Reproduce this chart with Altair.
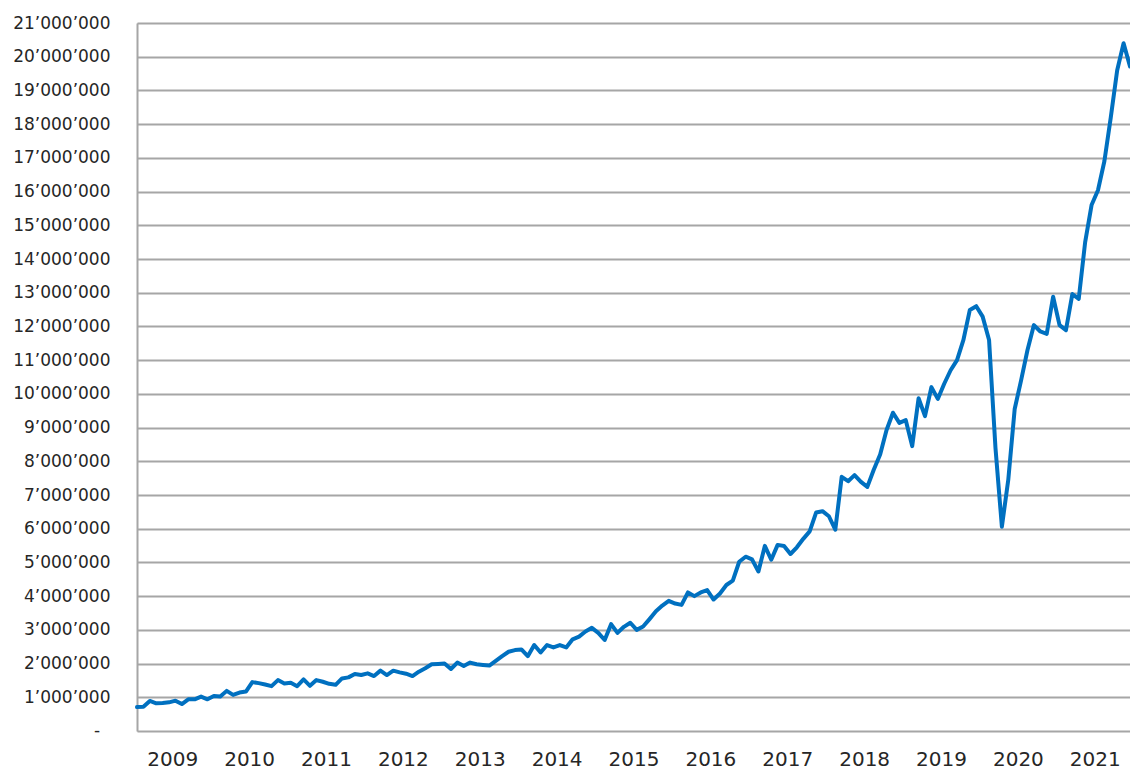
import altair as alt
import pandas as pd

start_year = 2009
values_m = [
    0.71, 0.72, 0.89, 0.82, 0.83, 0.85, 0.90, 0.80, 0.94, 0.94, 1.02, 0.94,
    1.04, 1.02, 1.19, 1.07, 1.14, 1.17, 1.45, 1.42, 1.38, 1.33, 1.51, 1.41,
    1.43, 1.33, 1.53, 1.34, 1.51, 1.46, 1.40, 1.37, 1.56, 1.59, 1.69, 1.66,
    1.71, 1.63, 1.79, 1.66, 1.79, 1.74, 1.70, 1.63, 1.76, 1.86, 1.98, 1.99,
    2.00, 1.84, 2.03, 1.93, 2.03, 1.98, 1.96, 1.94, 2.08, 2.22, 2.35, 2.40,
    2.42, 2.22, 2.55, 2.33, 2.55, 2.48, 2.55, 2.48, 2.72, 2.80, 2.95, 3.06,
    2.91, 2.70, 3.17, 2.91, 3.09, 3.21, 3.00, 3.10, 3.32, 3.55, 3.72, 3.86,
    3.78, 3.74, 4.11, 4.00, 4.11, 4.18, 3.90, 4.08, 4.33, 4.46, 5.02, 5.17,
    5.09, 4.73, 5.49, 5.08, 5.52, 5.49, 5.25, 5.45, 5.70, 5.92, 6.48, 6.52,
    6.37, 5.97, 7.54, 7.41, 7.59, 7.39, 7.24, 7.75, 8.20, 8.93, 9.44, 9.14,
    9.22, 8.45, 9.87, 9.34, 10.20, 9.85, 10.30, 10.70, 11.00, 11.60, 12.49, 12.60,
    12.29, 11.60, 8.40, 6.06, 7.45, 9.55, 10.40, 11.30, 12.04, 11.85, 11.78, 12.88,
    12.04, 11.89, 12.96, 12.82, 14.50, 15.60, 16.04, 16.90, 18.20, 19.60, 20.40, 19.71,
]
year_labels = list(range(2009, 2022))
y_ticks = [i * 1_000_000 for i in range(0, 22)]
zero_label = "-"

df = pd.DataFrame({
    "idx": list(range(len(values_m))),
    "value": [v * 1_000_000 for v in values_m],
})

x_tick_vals = [12 * k + 5.5 for k in range(len(year_labels))]

x_enc = alt.X(
    "idx:Q",
    scale=alt.Scale(domain=[0, len(values_m) - 1], nice=False, zero=False),
    axis=alt.Axis(
        title=None,
        values=x_tick_vals,
        labelExpr=f"'' + ({start_year} + floor(datum.value / 12))",
        grid=False,
        ticks=False,
        domain=False,
        labelFont="DejaVu Sans",
        labelFontSize=20,
        labelColor="#262626",
        labelPadding=34,
        labelBaseline="alphabetic",
        labelFlush=False,
    ),
)
y_scale = alt.Scale(domain=[0, 21_000_000], nice=False)
y_axis = alt.Axis(
    title=None,
    values=y_ticks,
    labelExpr="datum.value == 0 ? '' : format(datum.value / 1000000, 'd') + '\u2019000\u2019000'",
    grid=True,
    gridColor="#A6A6A6",
    gridWidth=2,
    ticks=False,
    domain=True,
    domainColor="#A6A6A6",
    domainWidth=2,
    labelFont="DejaVu Sans",
    labelFontSize=17,
    labelColor="#262626",
    labelPadding=27,
)

line = (
    alt.Chart(df)
    .mark_line(color="#0070C0", strokeWidth=4, strokeJoin="round", strokeCap="round")
    .encode(x=x_enc, y=alt.Y("value:Q", scale=y_scale, axis=y_axis))
)

zero_text = (
    alt.Chart(pd.DataFrame({"label": [zero_label], "value": [0]}))
    .mark_text(font="DejaVu Sans", fontSize=17, color="#262626", align="center", baseline="middle")
    .encode(
        x=alt.value(-40),
        y=alt.Y("value:Q", scale=y_scale, axis=y_axis),
        text="label:N",
    )
)

chart = (
    alt.layer(line, zero_text)
    .properties(
        width=993,
        height=708,
        padding={"left": 129, "top": 15, "right": 0, "bottom": 38},
        autosize=alt.AutoSizeParams(type="none"),
    )
    .configure_view(stroke=None)
    .configure(background="white")
)

chart.save("out.html", embed_options={"renderer": "svg", "actions": False})
